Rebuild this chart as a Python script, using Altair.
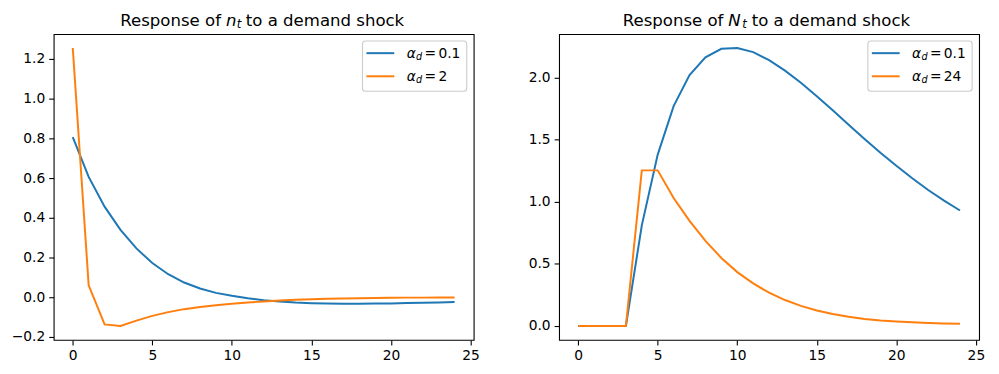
import altair as alt
import pandas as pd

# ---------------- data ----------------
t = list(range(25))
n_alpha_low = [0.806, 0.606, 0.456, 0.339, 0.246, 0.172, 0.116, 0.074, 0.044, 0.022,
               0.007, -0.005, -0.015, -0.022, -0.027, -0.030, -0.032, -0.033, -0.033,
               -0.032, -0.031, -0.029, -0.028, -0.026, -0.024]
n_alpha_high = [1.255, 0.060, -0.137, -0.145, -0.118, -0.094, -0.075, -0.060, -0.049,
                -0.040, -0.033, -0.027, -0.021, -0.017, -0.013, -0.010, -0.008, -0.006,
                -0.005, -0.004, -0.003, -0.002, -0.002, -0.001, -0.001]
N_alpha_low = [0.0, 0.0, 0.0, 0.0, 0.81, 1.38, 1.77, 2.02, 2.163, 2.232, 2.238, 2.205,
               2.14, 2.056, 1.958, 1.85, 1.737, 1.62, 1.505, 1.395, 1.29, 1.19, 1.095,
               1.01, 0.93]
N_alpha_high = [0.0, 0.0, 0.0, 0.0, 1.253, 1.253, 1.03, 0.847, 0.685, 0.548, 0.434,
                0.343, 0.268, 0.209, 0.162, 0.125, 0.096, 0.074, 0.057, 0.045, 0.037,
                0.030, 0.025, 0.021, 0.018]
left_alphas = ["0.1", "2"]
right_alphas = ["0.1", "24"]
x_ticks = [0, 5, 10, 15, 20, 25]
left_y_ticks = [-0.2, 0.0, 0.2, 0.4, 0.6, 0.8, 1.0, 1.2]
right_y_ticks = [0.0, 0.5, 1.0, 1.5, 2.0]
title_left = ["Response of", "n", "t", "to a demand shock"]
title_right = ["Response of", "N", "t", "to a demand shock"]

COLORS = ["#1f77b4", "#ff7f0e"]
FONT = "DejaVu Sans"
W, H = 423, 308
one = pd.DataFrame({"k": [0]})


def txt(text, x, y, size, style="normal", align="left"):
    return alt.Chart(one).mark_text(
        text=text, font=FONT, fontSize=size, fontStyle=style, align=align,
        baseline="alphabetic", color="black"
    ).encode(x=alt.value(x), y=alt.value(y))


def panel(a, b, alphas, ydom, yticks, title, tpos, yext):
    keys = ["series_1", "series_2"]
    df = pd.DataFrame({
        "t": t + t,
        "v": a + b,
        "s": [keys[0]] * len(t) + [keys[1]] * len(t),
        "alpha_d": [alphas[0]] * len(t) + [alphas[1]] * len(t),
    })
    lines = alt.Chart(df).mark_line(strokeWidth=2.0).encode(
        x=alt.X("t:Q", scale=alt.Scale(domain=[-1.2, 25.2], nice=False, zero=False),
                axis=alt.Axis(values=x_ticks, format="d", title=None, labelFlush=False)),
        y=alt.Y("v:Q", scale=alt.Scale(domain=ydom, nice=False, zero=False),
                axis=alt.Axis(values=yticks, format=".1f", title=None,
                              minExtent=yext, maxExtent=yext)),
        color=alt.Color("s:N", scale=alt.Scale(domain=keys, range=COLORS), legend=None),
    )
    layers = [lines]
    # title pieces
    layers.append(txt(title[0], tpos[0], -8.3, 16.67, align="right"))
    layers.append(txt(title[1], tpos[1], -8.3, 16.67, style="italic"))
    layers.append(txt(title[2], tpos[2], -6.0, 11.7, style="italic"))
    layers.append(txt(title[3], tpos[3], -8.3, 16.67))
    # legend box
    layers.append(alt.Chart(one).mark_rect(
        fill="white", fillOpacity=0.8, stroke="#cccccc", strokeWidth=1.1, cornerRadius=3
    ).encode(x=alt.value(311), x2=alt.value(416), y=alt.value(7), y2=alt.value(57.5)))
    for i, (al, col) in enumerate(zip(alphas, COLORS)):
        yc = 19.2 + 23.3 * i
        yb = 24.2 + 23.3 * i
        layers.append(alt.Chart(one).mark_rule(color=col, strokeWidth=2.0).encode(
            x=alt.value(315), x2=alt.value(343), y=alt.value(yc)))
        layers.append(txt("\u03b1", 355.5, yb, 13.9, style="italic"))
        layers.append(txt("d", 365, yb + 1.8, 9.7, style="italic"))
        layers.append(txt("=", 373.5, yb, 13.9))
        layers.append(txt(al, 387.5, yb, 13.9))
    return alt.layer(*layers).properties(width=W, height=H)


left = panel(n_alpha_low, n_alpha_high, left_alphas, [-0.215, 1.325], left_y_ticks,
             title_left, [168.5, 173.5, 184.5, 193.5], 45)
right = panel(N_alpha_low, N_alpha_high, right_alphas, [-0.112, 2.35], right_y_ticks,
              title_right, [165.5, 170.5, 184.5, 194.0], 35)

chart = alt.hconcat(left, right, spacing=43).resolve_scale(color="independent").properties(
    padding={"left": 0, "top": 3, "right": 5, "bottom": 5}
).configure_view(
    stroke="black", strokeWidth=1.1
).configure_axis(
    grid=False, domain=False, tickColor="black", tickWidth=1.1, tickSize=5,
    labelFont=FONT, labelFontSize=13.9, labelColor="black", labelPadding=4
)

chart.save("out.html", embed_options={"renderer": "svg", "actions": False})
